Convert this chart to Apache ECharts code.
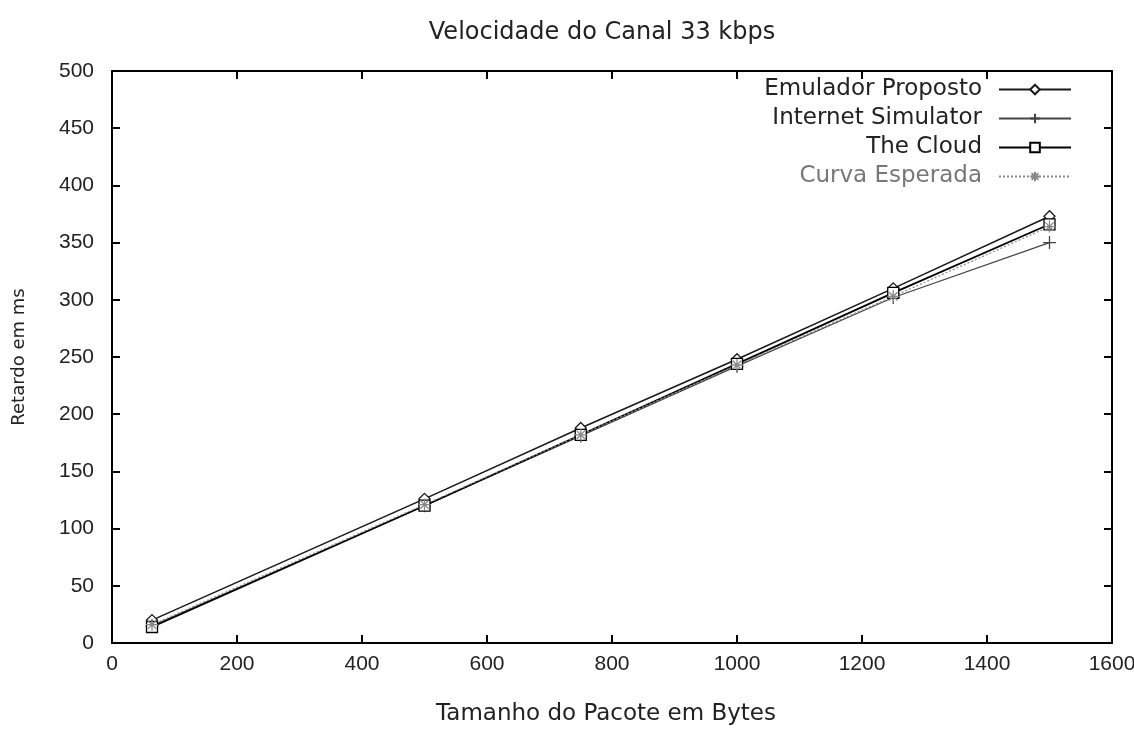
<!DOCTYPE html>
<html>
<head>
<meta charset="utf-8">
<script src="https://cdn.jsdelivr.net/npm/echarts@6/dist/echarts.min.js"></script>
<style>
  html, body { margin: 0; padding: 0; background: #fff; }
  #chart { width: 1134px; height: 729px; }
</style>
</head>
<body>
<div id="chart"></div>
<script>
// Packet sizes (bytes) and measured delays (ms) at 33 kbps
const packetSizes = [64, 500, 750, 1000, 1250, 1500];
const emuladorProposto = [20, 126, 188, 248, 310, 373];
const internetSimulator = [15, 120, 181, 242, 302, 350];
const theCloud = [14, 120, 182, 244, 306, 366];
const curvaEsperada = [16, 121, 182, 243, 303, 364];

const xTicks = [0, 200, 400, 600, 800, 1000, 1200, 1400, 1600];
const yTicks = [0, 50, 100, 150, 200, 250, 300, 350, 400, 450, 500];

const FONT = 'DejaVu Sans';
const TICK_FONT = 'Liberation Sans';
const plusPath = 'path://M0,5L10,5M5,0L5,10';
const starPath = 'path://M0,5L10,5M5,0L5,10M1.5,1.5L8.5,8.5M1.5,8.5L8.5,1.5';

const seriesDefs = [
  { name: 'Emulador Proposto', data: emuladorProposto, color: '#1a1a1a', symbol: 'diamond', size: 11, width: 1.6, type: 'solid' },
  { name: 'Internet Simulator', data: internetSimulator, color: '#444', symbol: plusPath, size: 13, width: 1.2, type: 'solid' },
  { name: 'The Cloud', data: theCloud, color: '#000', symbol: 'rect', size: 11, width: 1.8, type: 'solid' },
  { name: 'Curva Esperada', data: curvaEsperada, color: '#888', symbol: starPath, size: 12, width: 1.2, type: [2, 2] }
];

const pair = arr => packetSizes.map((x, i) => [x, arr[i]]);

const series = seriesDefs.map(d => ({
  name: d.name,
  type: 'line',
  data: pair(d.data),
  symbol: d.symbol,
  symbolSize: d.size,
  showAllSymbol: true,
  lineStyle: { color: d.color, width: d.width, type: d.type },
  itemStyle: { color: '#fff', borderColor: d.color, borderWidth: 1.3 },
  emphasis: { disabled: true },
  animation: false
}));

// one legend per entry so the labels line up on their right edge
const legends = seriesDefs.map((d, i) => ({
  data: [d.name],
  right: 62,
  top: 78 + i * 29,
  padding: 0,
  align: 'right',
  itemWidth: 72,
  itemHeight: 12,
  itemGap: 17,
  selectedMode: false,
  textStyle: { fontFamily: FONT, fontSize: 23, color: i === 3 ? '#777' : '#222', padding: [0, 12, 0, 0] }
}));

const tickLabel = { fontFamily: TICK_FONT, fontSize: 21, color: '#222' };

const mirrorAxisLine = { show: true, onZero: false, lineStyle: { color: '#000', width: 2 } };
const tickStyle = { show: true, inside: true, length: 8, lineStyle: { color: '#000', width: 2 } };

const chart = echarts.init(document.getElementById('chart'), null, { renderer: 'canvas' });
chart.setOption({
  backgroundColor: '#fff',
  animation: false,
  title: {
    text: 'Velocidade do Canal 33 kbps',
    left: 597, top: 16, textAlign: 'center',
    textStyle: { fontFamily: FONT, fontSize: 24, fontWeight: 'normal', color: '#222' }
  },
  legend: legends,
  grid: { left: 112, right: 22, top: 71, bottom: 86, containLabel: false, outerBoundsMode: 'none' },
  xAxis: [{
    type: 'value', min: 0, max: 1600, interval: 200,
    name: 'Tamanho do Pacote em Bytes', nameLocation: 'middle', nameGap: 60,
    nameTextStyle: { fontFamily: FONT, fontSize: 23, color: '#222', padding: [0, 12, 0, 0] },
    axisLine: mirrorAxisLine,
    axisTick: tickStyle,
    axisLabel: Object.assign({ margin: 11, formatter: v => xTicks.includes(v) ? String(v) : '' }, tickLabel),
    splitLine: { show: false }
  }, {
    type: 'value', min: 0, max: 1600, interval: 200, position: 'top',
    axisLine: mirrorAxisLine,
    axisTick: tickStyle,
    axisLabel: { show: false }, splitLine: { show: false }
  }],
  yAxis: [{
    type: 'value', min: 0, max: 500, interval: 50,
    name: 'Retardo em ms', nameLocation: 'middle', nameGap: 84,
    nameTextStyle: { fontFamily: FONT, fontSize: 18, color: '#222' },
    axisLine: mirrorAxisLine,
    axisTick: tickStyle,
    axisLabel: Object.assign({ margin: 18, formatter: v => yTicks.includes(v) ? String(v) : '' }, tickLabel),
    splitLine: { show: false }
  }, {
    type: 'value', min: 0, max: 500, interval: 50, position: 'right',
    axisLine: mirrorAxisLine,
    axisTick: tickStyle,
    axisLabel: { show: false }, splitLine: { show: false }
  }],
  series: series
});
</script>
</body>
</html>
